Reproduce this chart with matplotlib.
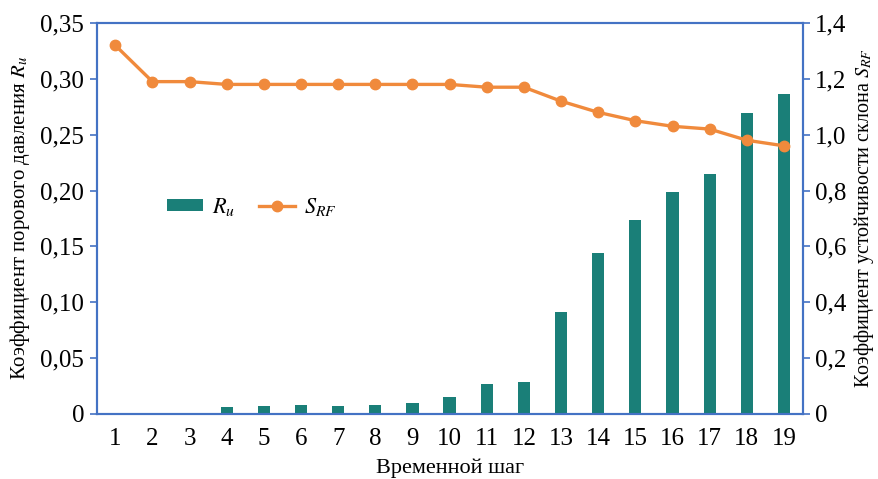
import numpy as np
import matplotlib
matplotlib.use("Agg")
import matplotlib.pyplot as plt
from matplotlib.ticker import FuncFormatter

plt.rcParams['font.family'] = ['Liberation Serif', 'DejaVu Serif']
plt.rcParams['mathtext.fontset'] = 'stix'

steps = list(range(1, 20))
ru = [0.0, 0.0005, 0.0005, 0.0065, 0.0074, 0.0083, 0.0074, 0.0083, 0.010, 0.015,
      0.0266, 0.0284, 0.091, 0.144, 0.174, 0.199, 0.215, 0.269, 0.286]
srf = [1.32, 1.19, 1.19, 1.18, 1.18, 1.18, 1.18, 1.18, 1.18, 1.18,
       1.17, 1.17, 1.12, 1.08, 1.05, 1.03, 1.02, 0.98, 0.96]

spine_col = '#4472c4'
bar_col = '#1a7f78'
line_col = '#f08a3c'

fig, ax = plt.subplots(figsize=(8.79, 4.79), dpi=100)
fig.subplots_adjust(left=0.11, right=0.913, top=0.952, bottom=0.136)

x = np.array(steps)
b = ax.bar(x, ru, width=0.33, color=bar_col, label='$R_u$', zorder=2)
ax.set_xlim(0.5, 19.5)
ax.set_ylim(0, 0.35)
ax.set_yticks(np.arange(0, 0.351, 0.05))

ax2 = ax.twinx()
l, = ax2.plot(x, srf, color=line_col, lw=2.4, marker='o', ms=7.5, label='$S_{RF}$', zorder=3)
ax2.set_ylim(0, 1.4)
ax2.set_yticks(np.arange(0, 1.41, 0.2))

def fmt(dec):
    def f(v, pos):
        if abs(v) < 1e-9:
            return '0'
        return f'{v:.{dec}f}'.replace('.', ',')
    return FuncFormatter(f)

ax.yaxis.set_major_formatter(fmt(2))
ax2.yaxis.set_major_formatter(fmt(1))
ax.set_xticks(x)
ax.set_xticklabels([str(s) for s in steps])

for a in (ax, ax2):
    for s in a.spines.values():
        s.set_color(spine_col)
        s.set_linewidth(1.5)
    a.tick_params(labelsize=18, colors='black', width=1.2, length=5)
    a.tick_params(axis='y', color=spine_col, pad=4)
ax.tick_params(axis='x', length=0, pad=10)

ax.set_xlabel('Временной шаг', fontsize=16, labelpad=6)
ax.set_ylabel('Коэффициент порового давления $R_u$', fontsize=15, labelpad=6)
ax2.set_ylabel('Коэффициент устойчивости склона $S_{RF}$', fontsize=14.5, labelpad=4)

ax.legend([b, l], ['$R_u$', '$S_{RF}$'], loc='center left', bbox_to_anchor=(0.1, 0.53),
          ncol=2, frameon=False, fontsize=16, handlelength=1.6, handleheight=0.45,
          handletextpad=0.4, columnspacing=1.1, borderpad=0, borderaxespad=0)

fig.savefig('out.png', dpi=100)
